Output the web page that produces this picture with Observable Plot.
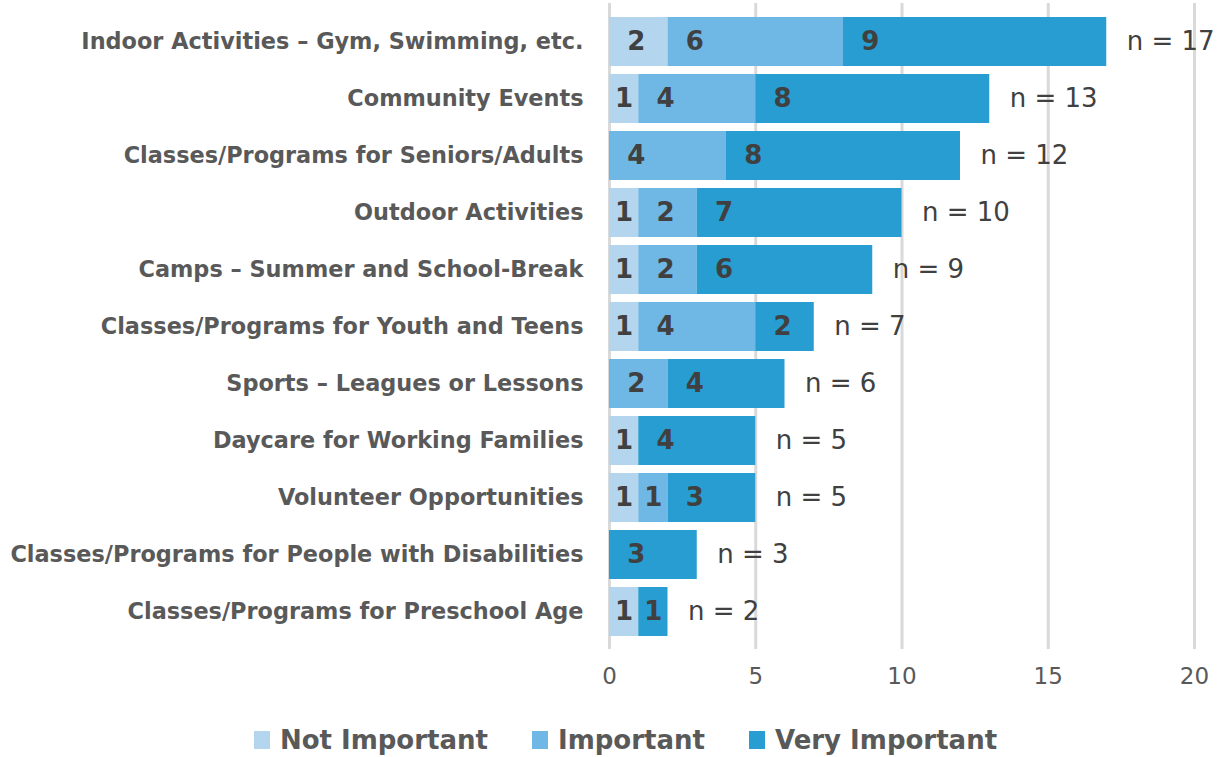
<!DOCTYPE html>
<html>
<head>
<meta charset="utf-8">
<script src="https://cdn.jsdelivr.net/npm/d3@7"></script>
<script src="https://cdn.jsdelivr.net/npm/@observablehq/plot@0.6"></script>
<style>
  html, body { margin: 0; padding: 0; background: #fff; }
  #chart svg { display: block; }
  .legend { display: flex; justify-content: center; align-items: center; height: 57px; padding-top: 22px; padding-left: 34px;
    font-family: "DejaVu Sans", sans-serif; font-weight: bold; font-size: 26px; color: #595959; box-sizing: border-box; }
  .legend .item { display: flex; align-items: center; margin: 0 22px; }
  .legend .sw { width: 16px; height: 18px; margin-right: 10px; }
</style>
</head>
<body>
<div id="chart"></div>
<div class="legend" id="legend"></div>
<script>
const categories = [
  "Indoor Activities – Gym, Swimming, etc.",
  "Community Events",
  "Classes/Programs for Seniors/Adults",
  "Outdoor Activities",
  "Camps – Summer and School-Break",
  "Classes/Programs for Youth and Teens",
  "Sports – Leagues or Lessons",
  "Daycare for Working Families",
  "Volunteer Opportunities",
  "Classes/Programs for People with Disabilities",
  "Classes/Programs for Preschool Age"
];
const notImportant  = [2, 1, 0, 1, 1, 1, 0, 1, 1, 0, 1];
const important     = [6, 4, 4, 2, 2, 4, 2, 0, 1, 0, 0];
const veryImportant = [9, 8, 8, 7, 6, 2, 4, 4, 3, 3, 1];
const seriesNames = ["Not Important", "Important", "Very Important"];
const seriesColors = ["#b4d5ee", "#6fb7e4", "#279dd1"];
const xTicks = [0, 5, 10, 15, 20];

const seriesValues = [notImportant, important, veryImportant];
const rows = [];
categories.forEach((cat, i) => {
  let acc = 0;
  seriesValues.forEach((vals, s) => {
    const v = vals[i];
    rows.push({cat, series: seriesNames[s], value: v, x1: acc, x2: acc + v});
    acc += v;
  });
});
const totals = categories.map((cat, i) => ({cat, total: notImportant[i] + important[i] + veryImportant[i]}));
const labelRows = rows.filter(d => d.value > 0);

const chart = Plot.plot({
  width: 1217,
  height: 700,
  marginLeft: 609,
  marginRight: 23,
  marginTop: 3,
  marginBottom: 51,
  style: {fontFamily: "'DejaVu Sans', sans-serif", background: "#fff"},
  x: {domain: [0, 20], ticks: xTicks, label: null},
  y: {domain: categories, label: null, padding: 0.146},
  color: {domain: seriesNames, range: seriesColors},
  marks: [
    Plot.gridX(xTicks, {stroke: "#d9d9d9", strokeOpacity: 1, strokeWidth: 3}),
    Plot.barX(rows, {x1: "x1", x2: "x2", y: "cat", fill: "series"}),
    Plot.text(labelRows, {x: d => d.x1 + Math.min(d.value / 2, 0.92), y: "cat", text: d => String(d.value),
      fill: "#404040", fontSize: 26, fontWeight: "bold"}),
    Plot.text(totals, {x: "total", y: "cat", text: d => "n = " + d.total, textAnchor: "start", dx: 20,
      fill: "#404040", fontSize: 26}),
    Plot.axisX({ticks: xTicks, tickSize: 0, tickPadding: 18, fontSize: 23, color: "#595959", label: null}),
    Plot.axisY({tickSize: 0, tickPadding: 26, fontSize: 22.4, fontWeight: "bold", color: "#595959", label: null})
  ]
});
document.getElementById("chart").appendChild(chart);

const legend = document.getElementById("legend");
seriesNames.forEach((name, i) => {
  const item = document.createElement("div");
  item.className = "item";
  const sw = document.createElement("span");
  sw.className = "sw";
  sw.style.background = seriesColors[i];
  const t = document.createElement("span");
  t.textContent = name;
  item.appendChild(sw); item.appendChild(t);
  legend.appendChild(item);
});
</script>
</body>
</html>
